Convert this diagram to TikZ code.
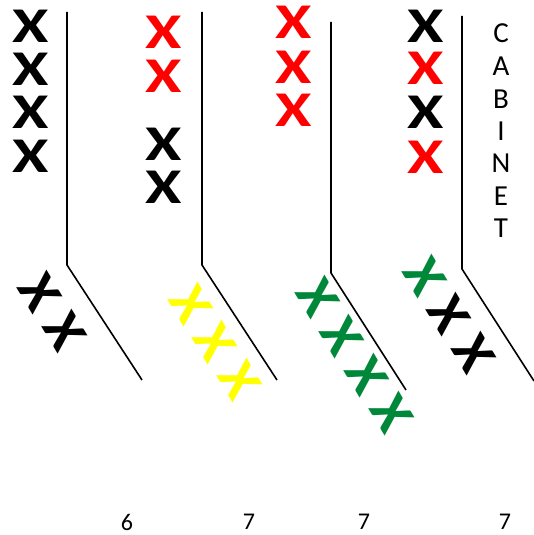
\documentclass[tikz,border=0pt]{standalone}
\usepackage{fontspec}
\setmainfont{Carlito}
\definecolor{xred}{RGB}{255,0,0}
\definecolor{xgreen}{RGB}{0,136,58}
\definecolor{xyellow}{RGB}{255,255,0}
\tikzset{
  ux/.style={inner sep=0pt, font=\fontsize{50}{50}\selectfont\bfseries, xscale=1.32},
  tx/.style={inner sep=0pt, font=\fontsize{54}{54}\selectfont\bfseries, rotate=-59, xscale=1.09},
  wall/.style={line width=1.6pt, line join=miter},
  lbl/.style={inner sep=0pt, font=\fontsize{29}{29}\selectfont},
  num/.style={inner sep=0pt, font=\fontsize{24}{24}\selectfont},
}
\begin{document}
\begin{tikzpicture}[x=1pt,y=-1pt]
\useasboundingbox (0,0) rectangle (534,535);
% walls
\draw[wall] (67,12) -- (67,265) -- (142,380);
\draw[wall] (202,12) -- (202,265) -- (277,380);
\draw[wall] (331,22) -- (331,273) -- (406,390);
\draw[wall] (462,16) -- (462,269) -- (534,381);
% column 1
\node[ux] (a1) at (31,26) {X};
\node[ux] (a2) at (31,69) {X};
\node[ux] (a3) at (31,112) {X};
\node[ux] (a4) at (31,156) {X};
% column 2
\node[ux,text=xred] (b1) at (164,32) {X};
\node[ux,text=xred] (b2) at (164,76) {X};
\node[ux] (b3) at (164,144) {X};
\node[ux] (b4) at (164,187) {X};
% column 3
\node[ux,text=xred] (c1) at (294,22) {X};
\node[ux,text=xred] (c2) at (294,67) {X};
\node[ux,text=xred] (c3) at (294,110) {X};
% column 4
\node[ux] (d1) at (426,26) {X};
\node[ux,text=xred] (d2) at (426,68) {X};
\node[ux] (d3) at (426,112) {X};
\node[ux,text=xred] (d4) at (426,157) {X};
% cabinet
\node[lbl] (cC) at (501,33) {C};
\node[lbl] (cA) at (501,66) {A};
\node[lbl] (cB) at (501,99) {B};
\node[lbl] (cI) at (501,131) {I};
\node[lbl] (cN) at (501,163) {N};
\node[lbl] (cE) at (501,196) {E};
\node[lbl] (cT) at (501,228) {T};
% tilted
\node[tx] (e1) at (40,292) {X};
\node[tx] (e2) at (65,331) {X};
\node[tx,text=xyellow] (f1) at (191,304) {X};
\node[tx,text=xyellow] (f2) at (215,342) {X};
\node[tx,text=xyellow] (f3) at (240,380) {X};
\node[tx,text=xgreen] (g1) at (318,297) {X};
\node[tx,text=xgreen] (g2) at (342,336) {X};
\node[tx,text=xgreen] (g3) at (367,375) {X};
\node[tx,text=xgreen] (g4) at (392,413) {X};
\node[tx,text=xgreen] (h1) at (425,276) {X};
\node[tx] (h2) at (449,314) {X};
\node[tx] (h3) at (474,353) {X};
% numbers
\node[num] (n1) at (127,522) {6};
\node[num] (n2) at (249,522) {7};
\node[num] (n3) at (364,522) {7};
\node[num] (n4) at (505,522) {7};
\end{tikzpicture}
\end{document}
